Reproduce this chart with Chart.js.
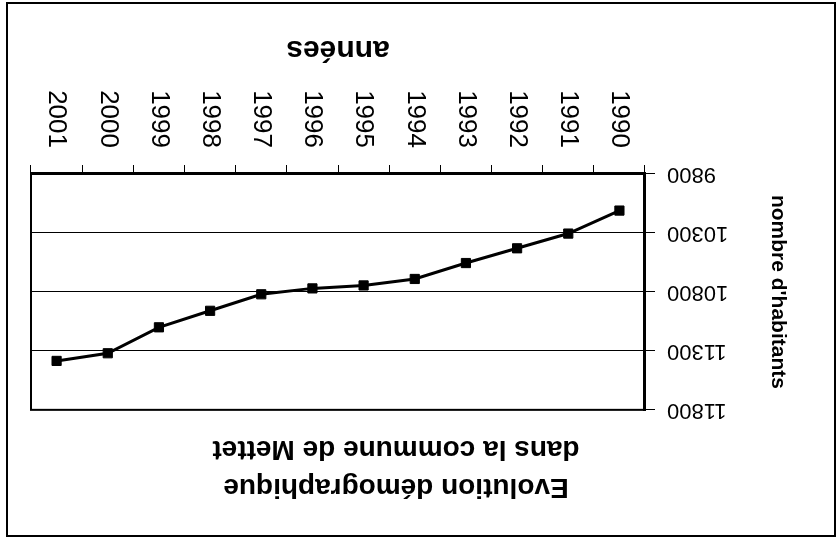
<!DOCTYPE html>
<html>
<head>
<meta charset="utf-8">
<script src="https://cdn.jsdelivr.net/npm/chart.js@4.4.1/dist/chart.umd.min.js"></script>
<style>
  html, body { margin: 0; padding: 0; background: #fff; overflow: hidden; }
  #wrap { width: 838px; height: 538px; transform: rotate(180deg); }
  canvas { display: block; }
</style>
</head>
<body>
<div id="wrap"><canvas id="c" width="838" height="538"></canvas></div>
<script>
const years = ['1990','1991','1992','1993','1994','1995','1996','1997','1998','1999','2000','2001'];
const inhabitants = [10110, 10305, 10430, 10555, 10690, 10745, 10770, 10820, 10960, 11100, 11320, 11385];
const yTicks = [9800, 10300, 10800, 11300, 11800];
const titleLines = ['Evolution démographique', 'dans la commune de Mettet'];
const xTitle = 'années';
const yTitle = "nombre d'habitants";

function pickFamily(cands) {
  const c = document.createElement('canvas').getContext('2d');
  const s = 'abcdefghijklmnopqrstuvwxyz0123456789 ABCDEFGHIJ';
  for (const f of cands) {
    let ok = true;
    for (const fb of ['monospace', 'serif']) {
      c.font = '40px ' + fb; const w0 = c.measureText(s).width;
      c.font = '40px "' + f + '", ' + fb; const w1 = c.measureText(s).width;
      if (Math.abs(w0 - w1) < 0.5) ok = false;
    }
    if (ok) return '"' + f + '"';
  }
  return 'sans-serif';
}

function draw() {
  const FAMILY = pickFamily(['Liberation Sans', 'Arimo', 'Arial', 'Helvetica', 'Roboto']) + ', sans-serif';
  Chart.defaults.font.family = FAMILY;
  Chart.defaults.color = '#000';

  const framePlugin = {
    id: 'frame',
    afterLayout(chart) {
      if (chart.titleBlock) { chart.titleBlock.left = 77; }
    },
    beforeDraw(chart) {
      const ctx = chart.ctx;
      ctx.save();
      ctx.fillStyle = '#fff';
      ctx.fillRect(0, 0, chart.width, chart.height);
      ctx.restore();
    },
    afterDraw(chart) {
      const ctx = chart.ctx;
      const a = chart.chartArea;
      ctx.save();
      ctx.strokeStyle = '#000';
      ctx.lineWidth = 2;
      ctx.strokeRect(a.left, a.top, a.right - a.left, a.bottom - a.top);
      ctx.strokeRect(3, 2, 828, 533);
      ctx.restore();
    }
  };

  new Chart(document.getElementById('c'), {
    type: 'line',
    data: {
      labels: years,
      datasets: [{
        data: inhabitants,
        borderColor: '#000',
        backgroundColor: '#000',
        borderWidth: 3,
        pointStyle: 'rect',
        pointRadius: 6.5,
        pointBorderWidth: 1,
        pointBackgroundColor: '#000',
        pointBorderColor: '#000',
        tension: 0,
        fill: false
      }]
    },
    options: {
      responsive: false,
      animation: false,
      devicePixelRatio: 1,
      layout: { padding: { left: 0, right: 31, top: 10, bottom: 0 } },
      plugins: {
        legend: { display: false },
        tooltip: { enabled: false },
        title: {
          display: true,
          text: titleLines,
          color: '#000',
          font: { family: FAMILY, size: 28, weight: 'bold', lineHeight: 1.36 },
          padding: { top: 22, bottom: 20 }
        }
      },
      scales: {
        x: {
          offset: true,
          grid: { display: true, drawOnChartArea: false, drawTicks: true, tickLength: 9, color: '#000', lineWidth: 1, offset: true },
          border: { display: true, color: '#000', width: 3 },
          ticks: { minRotation: 90, maxRotation: 90, autoSkip: false, padding: 17, color: '#000', font: { family: FAMILY, size: 26 } },
          title: { display: true, text: xTitle, color: '#000', font: { family: FAMILY, size: 30, weight: 'bold' }, padding: { top: 0, bottom: 31 } },
          afterFit(s) { s.height = 174; }
        },
        y: {
          min: yTicks[0],
          max: yTicks[yTicks.length - 1],
          afterBuildTicks(s) { s.ticks = yTicks.map(v => ({ value: v })); },
          ticks: { padding: 12, color: '#000', font: { family: FAMILY, size: 22 }, callback: v => String(v) },
          grid: { color: '#000', lineWidth: 1, tickLength: 10 },
          border: { display: true, color: '#000', width: 3 },
          title: { display: true, text: yTitle, color: '#000', font: { family: FAMILY, size: 21, weight: 'bold' }, padding: { top: 48, bottom: 0 } },
          afterFit(s) { s.width = 193; }
        }
      }
    },
    plugins: [framePlugin]
  });
}

draw();
</script>
</body>
</html>
